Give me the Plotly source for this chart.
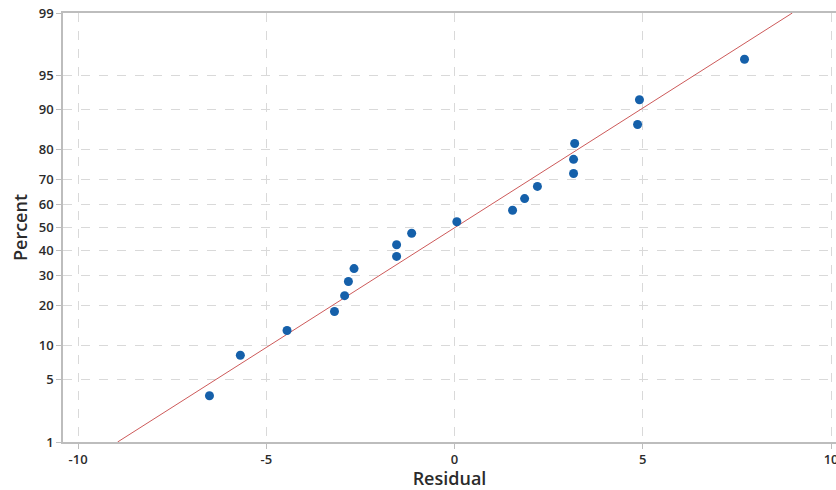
from statistics import NormalDist
import plotly.graph_objects as go

# Residuals (sorted) and their plotted percent positions
residuals = [-6.51, -5.69, -4.45, -3.19, -2.92, -2.82, -2.67, -1.54, -1.54, -1.14,
             0.06, 1.54, 1.86, 2.20, 3.16, 3.16, 3.19, 4.86, 4.91, 7.70]
percents = [3.4, 8.3, 13.2, 18.1, 23.0, 27.9, 32.8, 37.7, 42.6, 47.5,
            52.5, 57.4, 62.3, 67.2, 72.1, 77.0, 81.9, 86.8, 91.7, 96.6]

# Fitted reference line endpoints
line_x = [-8.95, 8.97]
line_pct = [1, 99]

y_ticks = [1, 5, 10, 20, 30, 40, 50, 60, 70, 80, 90, 95, 99]
x_ticks = [-10, -5, 0, 5, 10]

nd = NormalDist()
z = lambda p: nd.inv_cdf(p / 100.0)

fig = go.Figure()
fig.add_trace(go.Scatter(x=line_x, y=[z(p) for p in line_pct], mode="lines",
                         line=dict(color="#cd5a5a", width=1), showlegend=False,
                         hoverinfo="skip"))
fig.add_trace(go.Scatter(x=residuals, y=[z(p) for p in percents], mode="markers",
                         marker=dict(color="#1560aa", size=9), showlegend=False))

tick_font = dict(family="Open Sans", size=13, color="#2b2b2b", weight=600)
title_font = dict(family="Open Sans", size=18, color="#2b2b2b", weight=600)
fig.update_layout(
    width=836, height=490,
    margin=dict(l=63, r=0, t=13, b=48, autoexpand=False),
    paper_bgcolor="white", plot_bgcolor="white",
    font=dict(family="Open Sans"),
)
fig.update_xaxes(
    range=[-10.4, 10.13], tickvals=x_ticks, ticktext=[str(v) for v in x_ticks],
    showgrid=True, gridcolor="#d9d9d9", griddash="dash", gridwidth=1,
    showline=True, linecolor="#bdbdbd", linewidth=1.5, mirror=True,
    ticks="outside", ticklen=5, tickcolor="#bdbdbd", zeroline=False,
    tickfont=tick_font, automargin=False, ticklabeloverflow="allow",
    title=dict(text="Residual", font=title_font, standoff=6),
)
fig.update_yaxes(
    range=[z(1), z(99)], tickvals=[z(p) for p in y_ticks], ticktext=[str(p) for p in y_ticks],
    showgrid=True, gridcolor="#d9d9d9", griddash="dash", gridwidth=1,
    showline=True, linecolor="#bdbdbd", linewidth=1.5, mirror=True,
    ticks="outside", ticklen=5, tickcolor="#bdbdbd", zeroline=False,
    tickfont=tick_font, automargin=False, ticklabeloverflow="allow",
    title=dict(text="Percent", font=title_font, standoff=6),
)
fig.write_html("out.html", config={"displayModeBar": False},
               post_script="document.body.style.margin='0';")
